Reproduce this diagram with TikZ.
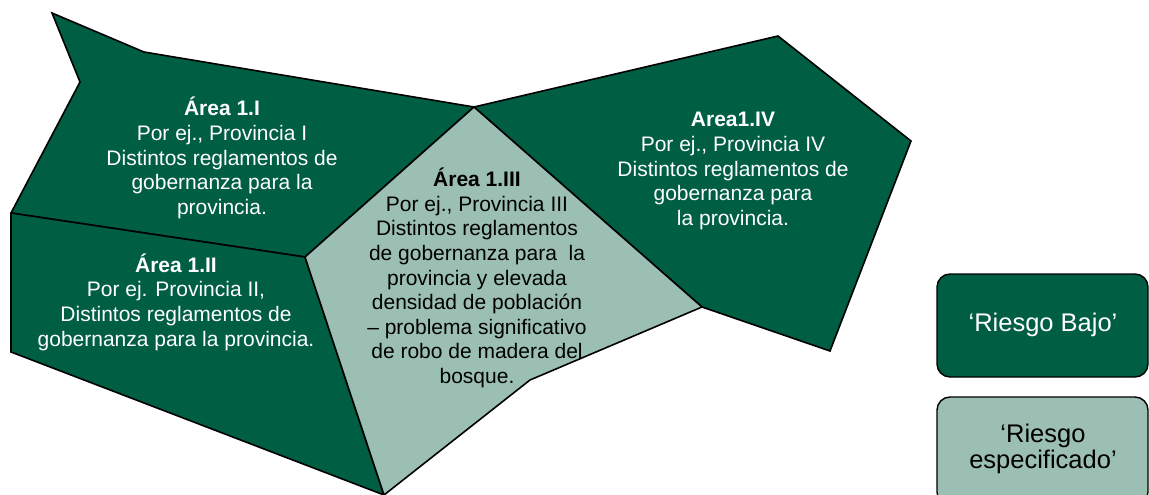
\documentclass[tikz,border=0pt]{standalone}
\usepackage{fontspec}
\setmainfont{Liberation Sans}
\definecolor{darkg}{HTML}{005E43}
\definecolor{lightg}{HTML}{9CBFB4}
\tikzset{
  region/.style={draw=black, line width=1.6pt, line join=miter},
  dark/.style={region, fill=darkg},
  light/.style={region, fill=lightg},
  lbl/.style={align=center, font=\fontsize{21}{24.6}\selectfont, inner sep=0pt},
  wlbl/.style={lbl, text=white},
  blbl/.style={lbl, text=black},
  leglbl/.style={align=center, font=\fontsize{25.5}{25.5}\selectfont, inner sep=0pt},
  legbox/.style={draw=black, line width=1.4pt, rounded corners=13pt}
}
\begin{document}
\begin{tikzpicture}[x=1pt,y=-1pt]
\useasboundingbox (0,0) rectangle (1149,495);
% Area 1.I
\draw[dark] (52,13) -- (144,52) -- (474,107) -- (305,257) -- (11,213) -- (80,82) -- cycle;
% Area 1.II
\draw[dark] (11,213) -- (305,257) -- (384,495) -- (11,352) -- cycle;
% Area 1.IV
\draw[dark] (474,107) -- (778,36) -- (911,141) -- (830,351) -- (702,307) -- cycle;
% Area 1.III
\draw[light] (474,107) -- (702,307) -- (530,380) -- (384,495) -- (305,257) -- cycle;
% labels
\node[wlbl] (a1) at (222,158) {\textbf{Área 1.I}\\Por ej., Provincia I\\Distintos reglamentos de\\gobernanza para la\\provincia.};
\node[wlbl] (a2) at (176,302) {\textbf{Área 1.II}\\Por ej. Provincia II,\\Distintos reglamentos de\\gobernanza para la provincia.};
\node[blbl] (a3) at (477,278) {\textbf{Área 1.III}\\Por ej., Provincia III\\Distintos reglamentos\\de gobernanza para\ \ la\\provincia y elevada\\densidad de población\\– problema significativo\\de robo de madera del\\bosque.};
\node[wlbl] (a4) at (733,171) {\textbf{Area1.IV}\\Por ej., Provincia IV\\Distintos reglamentos de\\gobernanza para\\la provincia.};
% legend
\draw[legbox, fill=darkg] (937,274) rectangle (1148,377);
\node[leglbl, text=white] (l1) at (1043,325) {‘Riesgo Bajo’};
\draw[legbox, fill=lightg] (937,397) rectangle (1148,505);
\node[leglbl, text=black] (l2) at (1043,449) {‘Riesgo\\especificado’};
\end{tikzpicture}
\end{document}
